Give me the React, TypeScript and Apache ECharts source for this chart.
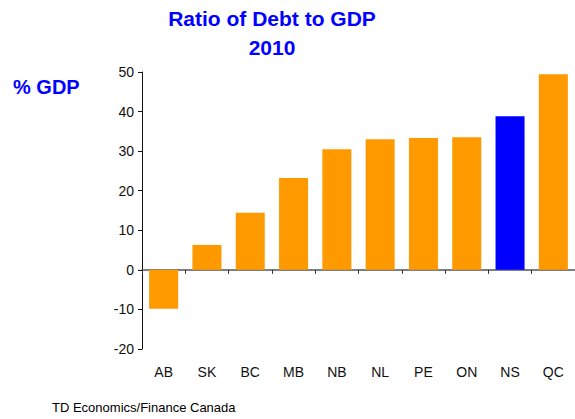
import React, { useEffect, useRef } from "react";
import * as echarts from "echarts";

const categories = ["AB", "SK", "BC", "MB", "NB", "NL", "PE", "ON", "NS", "QC"];
const values = [-9.8, 6.3, 14.4, 23.2, 30.5, 33.0, 33.3, 33.5, 38.8, 49.4];
const highlight = "NS";
const yTicks = { min: -20, max: 50, interval: 10 };
const titleLines = ["Ratio of Debt to GDP", "2010"];
const yUnit = "% GDP";
const sourceText = "TD Economics/Finance Canada";

export default function App() {
  const ref = useRef<HTMLDivElement>(null);
  useEffect(() => {
    if (!ref.current) return;
    const chart = echarts.init(ref.current, null, { renderer: "svg" });
    const font = "Arial, 'Liberation Sans', sans-serif";
    chart.setOption({
      animation: false,
      backgroundColor: "#ffffff",
      textStyle: { fontFamily: font },
      grid: { left: 142, right: 0, top: 72, bottom: 70, containLabel: false },
      graphic: [
        {
          type: "text",
          x: 272,
          y: 4,
          style: {
            text: titleLines.join("\n"),
            fill: "#0000ff",
            font: `bold 21px ${font}`,
            lineHeight: 29,
            align: "center",
          },
        },
        {
          type: "text",
          x: 13,
          y: 77,
          style: { text: yUnit, fill: "#0000ff", font: `bold 20px ${font}` },
        },
        {
          type: "text",
          x: 52,
          y: 401,
          style: { text: sourceText, fill: "#000000", font: `13px ${font}` },
        },
      ],
      xAxis: [
        {
          type: "category",
          data: categories,
          position: "bottom",
          axisLine: { show: true, onZero: true, lineStyle: { color: "#555", width: 1.5 } },
          axisTick: { show: true, length: 4, alignWithLabel: false, lineStyle: { color: "#333" } },
          axisLabel: { show: false },
          splitLine: { show: false },
        },
        {
          type: "category",
          data: categories,
          position: "bottom",
          axisLine: { show: false, onZero: false },
          axisTick: { show: false },
          axisLabel: { show: true, margin: 16, color: "#111", fontSize: 14, fontFamily: font },
          splitLine: { show: false },
        },
      ],
      yAxis: {
        type: "value",
        min: yTicks.min,
        max: yTicks.max,
        interval: yTicks.interval,
        axisLine: { show: true, lineStyle: { color: "#111", width: 1 } },
        axisTick: { show: true, length: 4, lineStyle: { color: "#111" } },
        axisLabel: { margin: 8, color: "#111", fontSize: 14, fontFamily: font },
        splitLine: { show: false },
      },
      series: [
        {
          type: "bar",
          xAxisIndex: 0,
          barCategoryGap: "33%",
          data: values.map((v, i) => ({
            value: v,
            itemStyle: { color: categories[i] === highlight ? "#0000ff" : "#ff9900" },
          })),
        },
      ],
    });
    return () => chart.dispose();
  }, []);
  return (
    <div
      ref={ref}
      style={{ position: "fixed", left: 0, top: 0, width: 575, height: 419 }}
    />
  );
}
